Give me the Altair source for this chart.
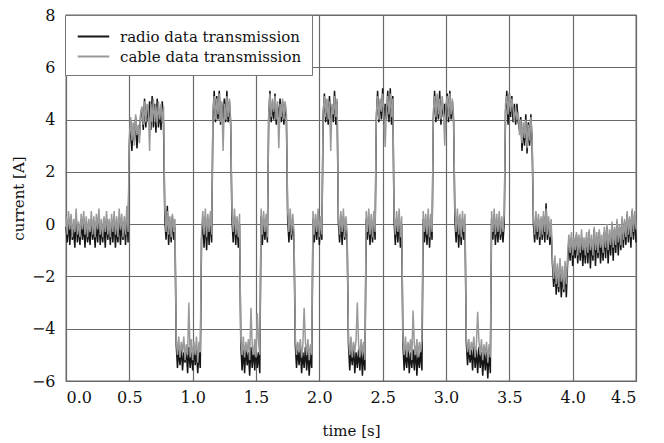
import altair as alt
import pandas as pd

# Segment start times [s]; samples inside a segment are 0.01 s apart
seg_start = [0.00, 0.50, 0.78, 0.87, 1.07, 1.16, 1.31, 1.38, 1.54, 1.60,
             1.75, 1.81, 1.95, 2.03, 2.15, 2.23, 2.37, 2.45, 2.59, 2.66,
             2.82, 2.90, 3.07, 3.16, 3.36, 3.47, 3.69, 3.84, 3.97]

radio_segs = [
    [-0.1,-0.7,0.2,-0.8,0.1,-0.6,-0.2,-0.9,0.3,-0.7,-0.1,-0.8,0.2,-0.6,0.0,-0.9,0.1,-0.7,-0.2,-0.8,
     0.2,-0.6,0.0,-0.9,0.1,-0.7,0.3,-0.8,-0.1,-0.7,0.1,-0.9,0.2,-0.6,0.0,-0.8,0.1,-0.7,0.3,-0.9,
     -0.1,-0.7,0.2,-0.8,0.0,-0.6,0.1,-0.8,0.4,-0.7],
    [3.0,4.0,2.8,3.7,3.2,4.1,2.9,3.6,3.4,4.2,4.4,3.6,4.8,3.7,4.5,3.9,4.7,3.6,4.9,3.7,
     4.6,3.5,4.8,3.7,4.4,3.6,4.7,3.8],
    [0.2,-0.6,0.7,-0.8,0.1,-0.7,0.3,-0.6,-0.1],
    [-4.6,-5.5,-4.8,-5.4,-4.7,-5.6,-4.9,-5.3,-4.8,-5.7,-4.7,-5.5,-4.9,-5.6,-4.7,-5.4,-4.8,-5.7,-4.9,-5.5],
    [-0.6,0.2,-0.9,0.3,-1.0,0.1,-0.8,0.2,-0.7],
    [4.1,5.1,3.9,4.9,4.0,5.1,3.8,4.6,4.0,4.8,3.9,5.1,3.9,4.7,3.8],
    [0.2,-0.7,0.3,-0.8,0.1,-0.9,0.0],
    [-4.6,-5.6,-4.8,-5.7,-4.7,-5.4,-4.9,-5.8,-4.7,-5.5,-4.8,-5.6,-4.7,-5.5,-4.9,-5.7],
    [0.3,-0.8,0.2,-0.6,0.1,-0.7],
    [4.0,5.1,3.9,4.6,4.0,5.0,3.8,4.5,4.1,4.8,3.9,4.7,3.8,4.6,4.0],
    [0.2,-0.7,0.3,-0.6,0.1,-0.6],
    [-4.6,-5.5,-4.8,-5.4,-4.7,-5.7,-4.9,-5.5,-4.7,-5.6,-4.8,-5.8,-4.9,-5.5],
    [0.2,-0.7,0.1,-0.6,0.3,-0.8,0.0,-0.6],
    [4.1,5.0,3.9,4.6,3.8,4.9,4.0,4.5,3.9,5.1,3.8,4.7],
    [0.1,-0.7,0.2,-0.8,0.3,-0.6,0.0,-0.7],
    [-4.6,-5.6,-4.8,-5.4,-4.7,-5.7,-4.9,-5.5,-4.8,-5.6,-4.7,-5.8,-4.9,-5.6],
    [0.2,-0.6,0.3,-0.8,0.1,-0.7,0.2,-0.6],
    [4.0,5.1,3.9,4.7,4.0,5.2,3.8,4.6,4.0,5.1,3.9,5.2,3.8,4.9],
    [0.1,-0.8,0.2,-0.7,0.3,-0.9,0.0],
    [-4.6,-5.6,-4.8,-5.5,-4.7,-5.7,-4.9,-5.5,-4.8,-5.6,-4.7,-5.8,-4.9,-5.5,-4.8,-5.6],
    [0.2,-0.7,0.1,-0.8,0.3,-0.9,0.1,-0.6],
    [4.0,5.1,3.9,4.8,4.0,5.1,3.8,4.7,4.1,4.6,3.9,5.0,3.9,5.1,4.0,4.7,3.9],
    [0.2,-0.7,0.3,-0.9,0.1,-0.8,0.2,-0.6,0.0],
    [-4.5,-5.4,-4.7,-5.3,-4.8,-5.6,-4.6,-5.5,-4.8,-5.7,-4.7,-5.5,-4.9,-5.8,-4.8,-5.6,-4.9,-5.9,-4.8,-5.7],
    [0.2,-0.6,0.3,-0.8,0.1,-0.7,0.2,-0.6,0.0,-0.7,0.1],
    [4.3,5.1,3.8,5.0,4.1,4.9,3.9,4.6,3.8,4.6,3.9,3.6,4.1,2.8,3.7,3.0,4.2,2.7,3.9,3.0,4.2,3.1],
    [0.0,-0.7,0.3,-0.6,0.2,-0.8,0.1,-0.6,0.3,-0.7,0.8,-0.6,0.1,-0.8,-0.2],
    [-1.5,-2.4,-1.6,-2.7,-1.8,-2.6,-1.5,-2.8,-1.9,-2.6,-1.7,-2.8,-1.5],
    [-0.6,-1.4,-0.5,-1.6,-0.7,-1.3,-0.4,-1.5,-0.6,-1.4,-0.5,-1.6,-0.7,-1.5,
     -0.5,-1.5,-0.3,-1.7,-0.6,-1.4,-0.2,-1.6,-0.5,-1.3,-0.3,-1.5,-0.6,-1.4,
     -0.3,-1.3,-0.1,-1.5,-0.4,-1.2,0.0,-1.4,-0.2,-1.1,0.1,-1.2,-0.1,-1.0,
     0.2,-0.9,0.1,-0.8,0.4,-0.7,0.2,-0.9,0.5,-0.6,0.3,-0.7],
]

cable_segs = [
    [0.3,-0.4,0.5,-0.2,0.4,-0.5,0.2,-0.3,0.6,-0.4,0.1,-0.5,0.4,-0.2,0.5,-0.4,0.3,-0.5,0.2,-0.3,
     0.5,-0.4,0.3,-0.5,0.4,-0.2,0.6,-0.4,0.2,-0.5,0.3,-0.3,0.5,-0.4,0.2,-0.5,0.4,-0.3,0.5,-0.4,
     0.3,-0.5,0.6,-0.2,0.4,-0.5,0.3,-0.4,0.7,-0.3],
    [3.3,4.1,3.2,3.9,3.0,4.2,3.4,3.8,3.1,4.3,4.5,3.8,4.7,3.9,4.6,4.4,2.8,4.6,3.9,4.8,
     3.9,4.5,3.8,4.7,4.0,4.6,3.9,4.5],
    [0.6,-0.3,0.5,-0.4,0.3,-0.5,0.4,-0.3,0.2],
    [-4.4,-5.0,-4.3,-5.1,-4.5,-4.9,-4.3,-5.2,-4.6,-5.0,-3.0,-5.1,-4.4,-5.2,-4.5,-5.0,-4.3,-5.3,-4.5,-4.9],
    [-0.3,0.5,-0.4,0.6,-0.5,0.4,-0.3,0.5,-0.4],
    [4.3,4.9,4.0,4.8,4.2,5.0,3.9,4.7,2.8,4.6,4.0,4.9,4.1,4.8,4.0],
    [0.5,-0.3,0.6,-0.4,0.3,-0.5,0.4],
    [-4.4,-5.0,-4.3,-5.1,-4.5,-4.9,-4.4,-5.2,-3.2,-4.6,-5.0,-4.4,-5.1,-3.4,-4.5,-5.0],
    [0.6,-0.4,0.5,-0.3,0.4,-0.5],
    [4.2,5.0,4.1,4.8,4.3,4.9,4.0,4.7,2.9,4.6,4.1,4.8,4.0,4.7,4.2],
    [0.5,-0.3,0.6,-0.4,0.4,-0.3],
    [-4.3,-5.0,-4.5,-4.9,-4.4,-5.1,-4.6,-3.2,-4.5,-5.0,-4.4,-5.2,-4.6,-5.0],
    [0.5,-0.4,0.4,-0.3,0.6,-0.5,0.3,-0.4],
    [4.3,4.9,4.1,4.8,4.0,4.7,2.8,4.6,4.2,4.9,4.1,4.8],
    [0.4,-0.4,0.5,-0.3,0.6,-0.5,0.3,-0.4],
    [-4.4,-5.0,-4.3,-5.1,-4.5,-4.9,-4.4,-3.0,-4.6,-5.1,-4.4,-5.0,-4.5,-5.2],
    [0.5,-0.3,0.6,-0.4,0.4,-0.5,0.5,-0.3],
    [4.2,4.9,4.0,4.8,4.3,5.0,4.1,2.95,4.5,4.9,4.2,5.0,4.1,4.8],
    [0.4,-0.4,0.5,-0.3,0.6,-0.5,0.3],
    [-4.4,-5.0,-4.3,-5.1,-4.5,-4.9,-4.4,-5.2,-3.3,-4.6,-5.0,-4.4,-5.1,-4.5,-4.9,-4.4],
    [0.5,-0.3,0.4,-0.4,0.6,-0.5,0.4,-0.3],
    [4.3,4.9,4.1,5.0,4.2,4.8,4.0,4.9,4.3,3.0,4.6,4.9,4.1,5.0,4.2,4.8,4.1],
    [0.5,-0.3,0.6,-0.4,0.4,-0.5,0.5,-0.3,0.4],
    [-4.3,-4.9,-4.4,-5.0,-4.5,-4.8,-4.3,-5.1,-4.6,-3.35,-4.5,-5.0,-4.4,-5.2,-4.6,-5.0,-4.5,-5.3,-4.6,-5.1],
    [0.5,-0.3,0.6,-0.4,0.4,-0.3,0.5,-0.4,0.3,-0.3,0.4],
    [4.6,4.9,4.2,5.0,4.3,4.8,4.4,3.9,4.5,4.0,4.3,3.4,4.0,3.1,3.9,3.3,4.0,2.9,3.8,3.2,4.1,3.3],
    [0.3,-0.4,0.5,-0.3,0.4,-0.5,0.3,-0.4,0.5,-0.3,0.6,-0.4,0.3,-0.5,0.2],
    [-1.3,-2.1,-1.2,-2.3,-1.5,-2.4,-1.3,-2.2,-1.6,-2.5,-1.4,-2.3,-1.2],
    [-0.4,-1.1,-0.3,-1.2,-0.5,-1.0,-0.3,-1.2,-0.4,-1.1,-0.2,-1.0,-0.5,-1.2,
     -0.3,-1.1,-0.2,-1.0,-0.4,-1.2,-0.1,-1.0,-0.3,-1.1,-0.2,-0.9,-0.4,-1.1,
     -0.1,-0.9,0.0,-1.0,-0.2,-0.8,0.1,-0.9,-0.1,-0.8,0.2,-0.7,0.0,-0.8,
     0.3,-0.6,0.2,-0.5,0.5,-0.4,0.3,-0.5,0.6,-0.3,0.5,-0.2],
]

series_names = ["radio data transmission", "cable data transmission"]
series_colors = ["#151515", "#9a9a9a"]


def build(segs, name):
    rows = []
    for start, vals in zip(seg_start, segs):
        for k, v in enumerate(vals):
            rows.append({"t": round(start + 0.01 * k, 3), "A": v, "series": name})
    return pd.DataFrame(rows)


radio_df = build(radio_segs, series_names[0])
cable_df = build(cable_segs, series_names[1])

SERIF = "DejaVu Serif"

color = alt.Color(
    "series:N",
    scale=alt.Scale(domain=series_names, range=series_colors),
    legend=alt.Legend(
        title=None,
        orient="none",
        legendX=-1,
        legendY=0,
        symbolType="M-1.5,0H1.5",
        symbolSize=441,
        symbolStrokeWidth=2,
        symbolOffset=7,
        labelFont=SERIF,
        labelFontSize=15,
        labelColor="#111",
        labelOffset=15,
        labelLimit=0,
        rowPadding=0,
        padding=10,
        strokeColor="#777",
        fillColor="white",
        cornerRadius=0,
    ),
)

x = alt.X(
    "t:Q",
    scale=alt.Scale(domain=[0, 4.5], nice=False, zero=False),
    axis=alt.Axis(values=[0, 0.5, 1, 1.5, 2, 2.5, 3, 3.5, 4, 4.5], format=".1f",
                  title="time [s]", titlePadding=18),
)
y = alt.Y(
    "A:Q",
    scale=alt.Scale(domain=[-6, 8], nice=False),
    axis=alt.Axis(values=[-6, -4, -2, 0, 2, 4, 6, 8], title="current [A]", titlePadding=5),
)

radio_line = alt.Chart(radio_df).mark_line(strokeWidth=1.5, interpolate="linear").encode(x=x, y=y, color=color)
cable_line = alt.Chart(cable_df).mark_line(strokeWidth=1.5, interpolate="linear").encode(x=x, y=y, color=color)

chart = (
    alt.layer(radio_line, cable_line)
    .properties(
        width=570,
        height=366,
        autosize=alt.AutoSizeParams(type="none"),
        padding={"left": 66, "top": 15, "right": 28, "bottom": 62},
        background="white",
    )
    .configure_view(stroke="#666", strokeWidth=1.3)
    .configure_axis(
        grid=True,
        gridColor="#6a6a6a",
        gridWidth=1.2,
        gridOpacity=1,
        domain=False,
        ticks=False,
        labelFont=SERIF,
        labelFontSize=16,
        labelColor="#111",
        labelPadding=8,
        titleFont=SERIF,
        titleFontSize=15,
        titleFontWeight="normal",
        titleColor="#111",
    )
    .configure_axisY(labelPadding=11)
)

chart.save("out.html", embed_options={"renderer": "svg", "actions": False})
